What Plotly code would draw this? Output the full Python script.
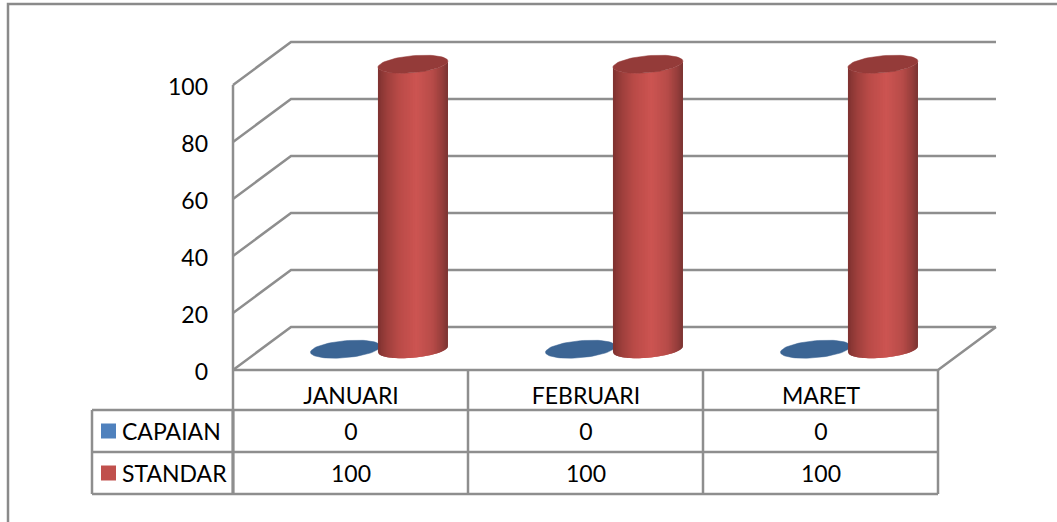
import numpy as np
import plotly.graph_objects as go

categories = ["JANUARI", "FEBRUARI", "MARET"]
series_names = ["CAPAIAN", "STANDAR"]
capaian = [0, 0, 0]
standar = [100, 100, 100]
y_ticks = [0, 20, 40, 60, 80, 100]

W, H = 1057, 522
L, B = 233, 370                     # axis corner, px
X0_PX, CAT_PX = 351, 235            # first category centre and spacing, px
VAL_PX = 2.85                       # px per value unit
DEPTH_X, DEPTH_Y = 58 / CAT_PX, 43 / VAL_PX
GRAY = "#8e8e8e"
FONT = "Lato"
FS = 23

def fx(px):
    return (px - X0_PX) / CAT_PX

def fy(py):
    return (B - py) / VAL_PX

fig = go.Figure()

def add_lines(segments, width=2.5, color=GRAY):
    xs, ys = [], []
    for seg in segments:
        for a, b in seg:
            xs.append(a); ys.append(b)
        xs.append(None); ys.append(None)
    fig.add_trace(go.Scatter(x=xs, y=ys, mode="lines", showlegend=False, hoverinfo="skip",
                             line=dict(color=color, width=width)))

# walls and floor from the value scale
xl, xr = fx(233), fx(938)
walls = []
for v in y_ticks:
    walls.append([(xl, v), (xl + DEPTH_X, v + DEPTH_Y), (xr + DEPTH_X, v + DEPTH_Y)])
walls.append([(xl, y_ticks[0]), (xl, y_ticks[-1])])
walls.append([(xl, 0), (xr, 0), (xr + DEPTH_X, DEPTH_Y)])
add_lines(walls)

# data table and outer frame
r0, r1, r2 = fy(410), fy(452), fy(494)
xt = fx(92)
cells = [[(xt, r0), (xr, r0)], [(xt, r1), (xr, r1)], [(xt, r2), (xr, r2)], [(xt, r0), (xt, r2)]]
for i in range(4):
    xv = xl + i * 1.0
    cells.append([(xv, 0), (xv, r2)])
add_lines(cells)
add_lines([[(fx(233), r0), (fx(233), r2)]], width=3)
add_lines([[(fx(8), fy(H)), (fx(8), fy(4)), (fx(W), fy(4))]], width=2.5, color="#8a8a8a")

# cylinders
RX, RY, TILT = 35 / CAT_PX, 8.5 / VAL_PX, 3 / VAL_PX
OFFSET = 33.75 / CAT_PX
MID_X, MID_Y = DEPTH_X / 2 - 0.8 / CAT_PX, 7.3
CAP = {"CAPAIAN": "#3c6594", "STANDAR": "#943b39"}

stops = [(0.0, (126, 50, 48)), (0.12, (156, 63, 60)), (0.3, (186, 75, 72)),
         (0.55, (205, 85, 82)), (0.78, (184, 76, 73)), (0.92, (150, 62, 60)), (1.0, (122, 52, 50))]

def shade(t):
    ps = [s[0] for s in stops]
    return "rgb(%d,%d,%d)" % tuple(np.interp(t, ps, [s[1][k] for s in stops]) for k in range(3))

def front(u, cy):
    return cy - RY * np.sqrt(np.clip(1 - u * u, 0, 1)) + TILT * u

N = 46
edges = np.linspace(-1, 1, N + 1)
for name, values, sign in [("CAPAIAN", capaian, -1), ("STANDAR", standar, 1)]:
    centers = [i + sign * OFFSET + MID_X for i in range(len(categories))]
    for k in range(N):
        # each strip runs one band past its right edge; the next strip paints over the overlap
        u = np.linspace(edges[k], edges[min(k + 2, N)], 5)
        xs, ys = [], []
        for cx, v in zip(centers, values):
            if v <= 0:
                continue
            xs += list(cx + RX * u) + list(cx + RX * u[::-1]) + [None]
            ys += list(front(u, v + MID_Y)) + list(front(u[::-1], MID_Y)) + [None]
        if xs:
            c = shade((k + 0.5) / N)
            fig.add_trace(go.Scatter(x=xs, y=ys, mode="lines", fill="toself", fillcolor=c,
                                     line=dict(color=c, width=0), showlegend=False,
                                     hoverinfo="skip"))
    th = np.linspace(0, 2 * np.pi, 73)
    xs, ys = [], []
    for cx, v in zip(centers, values):
        xs += list(cx + RX * np.cos(th)) + [None]
        ys += list(v + MID_Y + RY * np.sin(th) + TILT * np.cos(th)) + [None]
    fig.add_trace(go.Scatter(x=xs, y=ys, mode="lines", fill="toself", fillcolor=CAP[name],
                             line=dict(color=CAP[name], width=0.5), showlegend=False,
                             hoverinfo="skip"))

# table contents
TEXT_DROP = 3 / VAL_PX
for name, values, row, swatch in [("CAPAIAN", capaian, (r0 + r1) / 2, "#4f81bd"),
                                  ("STANDAR", standar, (r1 + r2) / 2, "#c0504d")]:
    fig.add_trace(go.Scatter(x=list(range(len(categories))), y=[row - TEXT_DROP] * len(categories),
                             mode="text", text=[str(v) for v in values], textposition="middle center",
                             textfont=dict(family=FONT, size=FS, color="#000"),
                             showlegend=False, hoverinfo="skip"))
    fig.add_trace(go.Scatter(x=[fx(108.5)], y=[row], mode="markers",
                             marker=dict(symbol="square", size=15, color=swatch),
                             showlegend=False, hoverinfo="skip"))
    fig.add_trace(go.Scatter(x=[fx(122)], y=[row - TEXT_DROP], mode="text", text=[name],
                             textposition="middle right",
                             textfont=dict(family=FONT, size=FS, color="#000"),
                             showlegend=False, hoverinfo="skip"))

fig.update_layout(
    width=W, height=H, autosize=False,
    margin=dict(l=0, r=0, t=0, b=0, pad=0),
    paper_bgcolor="white", plot_bgcolor="white", showlegend=False,
    font=dict(family=FONT, size=FS, color="#000"),
    xaxis=dict(range=[fx(0), fx(W)], domain=[0, 1], anchor="free", position=(H - B) / H,
               tickmode="array", tickvals=list(range(len(categories))),
               ticktext=categories, showgrid=False, zeroline=False, showline=False,
               ticks="", ticklabelstandoff=10, tickfont=dict(family=FONT, size=FS, color="#000")),
    yaxis=dict(range=[fy(H), fy(0)], domain=[0, 1], anchor="free", position=L / W,
               tickmode="array", tickvals=y_ticks, ticklabelshift=2,
               ticktext=[str(v) for v in y_ticks], showgrid=False, zeroline=False, showline=False,
               ticks="", ticklabelstandoff=25, tickfont=dict(family=FONT, size=FS, color="#000")),
)

fig.write_html("out.html", config=dict(displayModeBar=False),
               post_script="document.body.style.margin='0';")
